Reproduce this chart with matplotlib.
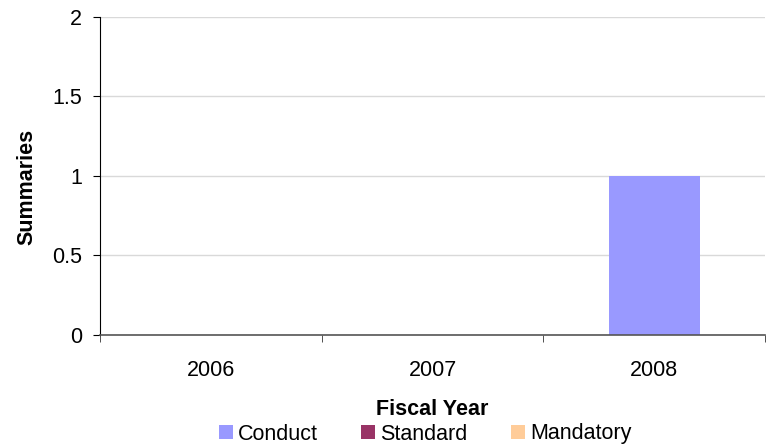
import matplotlib.pyplot as plt
import numpy as np

plt.rcParams['font.family'] = ['Liberation Sans', 'DejaVu Sans']

years = ['2006', '2007', '2008']
conduct = [0, 0, 1]
standard = [0, 0, 0]
mandatory = [0, 0, 0]
series = [('Conduct', conduct, '#9999FF'),
          ('Standard', standard, '#993366'),
          ('Mandatory', mandatory, '#FFCC99')]

fs = 15.5
fig = plt.figure(figsize=(7.68, 4.45), dpi=100)
ax = fig.add_axes([100/768, 1-335/445, 665/768, (335-16.7)/445])

x = np.arange(len(years))
for name, vals, col in series:
    ax.bar(x, vals, width=0.41, color=col, label=name, zorder=2)

ax.set_xlim(-0.5, 2.5)
ax.set_ylim(0, 2)
ax.set_yticks([0, 0.5, 1, 1.5, 2])
ax.set_yticklabels(['0', '0.5', '1', '1.5', '2'])
ax.yaxis.grid(True, color='#d9d9d9', linewidth=1, zorder=0)
ax.set_axisbelow(True)

ax.set_xticks(x)
ax.set_xticklabels(years)
ax.tick_params(axis='x', length=0, labelsize=fs, pad=18)
ax.set_xticks([-0.5, 0.5, 1.5, 2.5], minor=True)
ax.tick_params(axis='x', which='minor', length=5, color='#333333', direction='out')
ax.tick_params(axis='y', length=5, labelsize=fs, pad=8, direction='out')

for s in ['top', 'right']:
    ax.spines[s].set_visible(False)
ax.spines['left'].set_color('black')
ax.spines['bottom'].set_color('#555555')
ax.spines['bottom'].set_linewidth(1.2)

ax.set_ylabel('Summaries', fontsize=fs, fontweight='bold')
ax.yaxis.set_label_coords(-0.094, 0.465)
ax.set_xlabel('Fiscal Year', fontsize=fs, fontweight='bold', labelpad=13)

fig.legend(*ax.get_legend_handles_labels(), loc='center', bbox_to_anchor=(425/768, 1-434/445),
           ncol=3, frameon=False, fontsize=fs, handlelength=0.65, handleheight=0.65,
           handletextpad=0.25, columnspacing=2.0, borderaxespad=0, borderpad=0)

fig.savefig('out.png', dpi=100)
